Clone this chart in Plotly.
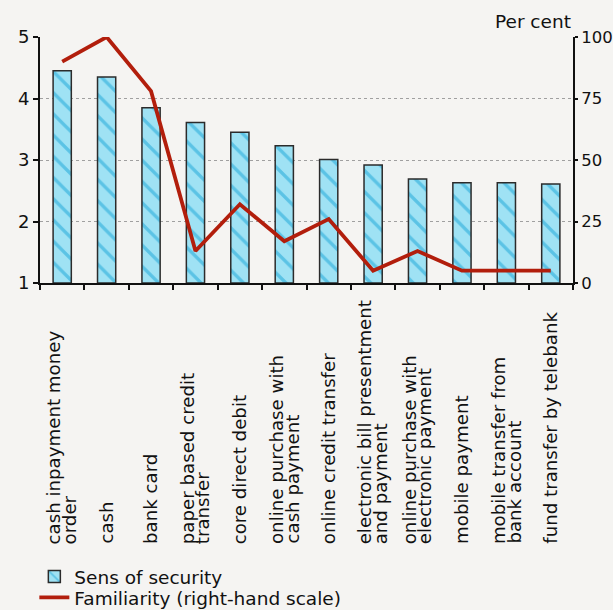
import plotly.graph_objects as go

# Payment instruments (two-line labels split with <br>)
categories = [
    "cash inpayment money<br>order",
    "cash",
    "bank card",
    "paper based credit<br>transfer",
    "core direct debit",
    "online purchase with<br>cash payment",
    "online credit transfer",
    "electronic bill presentment<br>and payment",
    "online purchase with<br>electronic payment",
    "mobile payment",
    "mobile transfer from<br>bank account",
    "fund transfer by telebank",
]
# Sense of security score (left-hand scale, 1-5)
security = [4.45, 4.35, 3.85, 3.61, 3.45, 3.23, 3.01, 2.92, 2.69, 2.63, 2.63, 2.61]
# Familiarity, per cent (right-hand scale)
familiarity = [90, 100, 78, 13, 32, 17, 26, 5, 13, 5, 5, 5]

left_ticks = [1, 2, 3, 4, 5]
right_ticks = [0, 25, 50, 75, 100]

FONT = "DejaVu Sans"
INK = "#111111"
BG = "#f5f4f2"

x = list(range(len(categories)))

fig = go.Figure()
fig.add_trace(go.Bar(
    x=x, y=[v - 1 for v in security], base=1,
    width=0.41,
    name="Sens of security",
    legend="legend",
    marker=dict(
        color="#9fe2f4",
        line=dict(color="#2b2b2b", width=1.5),
        pattern=dict(shape="\\", fgcolor="#17a3d6", size=15, solidity=0.22),
    ),
    yaxis="y",
))
fig.add_trace(go.Scatter(
    x=x, y=familiarity, mode="lines",
    name="Familiarity (right-hand scale)",
    legend="legend2",
    line=dict(color="#b21e0c", width=3.8),
    yaxis="y2",
))

# Rotated category labels, each line placed separately, reading bottom-up
line_gap = 15.5
for i, lab in enumerate(categories):
    parts = lab.split("<br>")
    n = len(parts)
    for j, part in enumerate(parts):
        shift = (j - (n - 1) / 2) * line_gap
        fig.add_annotation(
            x=i, xref="x", y=-1.069, yref="paper",
            text=part, textangle=-90, showarrow=False,
            xanchor="center", yanchor="bottom", xshift=shift,
            font=dict(family=FONT, size=18.2, color=INK),
        )

fig.add_annotation(
    x=1.0, xref="paper", y=1.062, yref="paper",
    text="Per cent", showarrow=False, xanchor="right", yanchor="middle",
    font=dict(family=FONT, size=18.5, color=INK),
)

legend_style = dict(
    x=-0.0106, xanchor="left", yanchor="middle",
    bgcolor="rgba(0,0,0,0)", font=dict(family=FONT, size=18.5, color=INK),
    itemwidth=30,
)

fig.update_layout(
    width=613, height=610,
    margin=dict(l=40, r=40, t=37, b=327, autoexpand=False),
    paper_bgcolor=BG, plot_bgcolor=BG,
    font=dict(family=FONT, size=16, color=INK),
    showlegend=True,
    legend=dict(y=-1.195, **legend_style),
    legend2=dict(y=-1.280, **legend_style),
    xaxis=dict(
        range=[-0.5, len(categories) - 0.5],
        tickmode="array", tickvals=[i - 0.5 for i in range(len(categories) + 1)],
        ticktext=[""] * (len(categories) + 1),
        ticks="outside", ticklen=5, tickwidth=2, tickcolor="#111",
        showline=True, linecolor="#111", linewidth=2,
        showgrid=False, zeroline=False, automargin=False,
    ),
    yaxis=dict(
        range=[1, 5], tickvals=left_ticks,
        ticks="outside", ticklen=5, tickwidth=2, tickcolor="#111",
        showline=True, linecolor="#111", linewidth=2,
        showgrid=True, gridcolor="#a0a0a0", griddash="dot", gridwidth=1,
        zeroline=False, tickfont=dict(size=18), automargin=False,
    ),
    yaxis2=dict(
        range=[0, 100], tickvals=right_ticks, overlaying="y", side="right",
        ticks="outside", ticklen=3, tickwidth=2, tickcolor="#111",
        showline=True, linecolor="#111", linewidth=2,
        showgrid=False, zeroline=False, tickfont=dict(size=16.5), automargin=False,
    ),
)

fig.write_html("out.html")
